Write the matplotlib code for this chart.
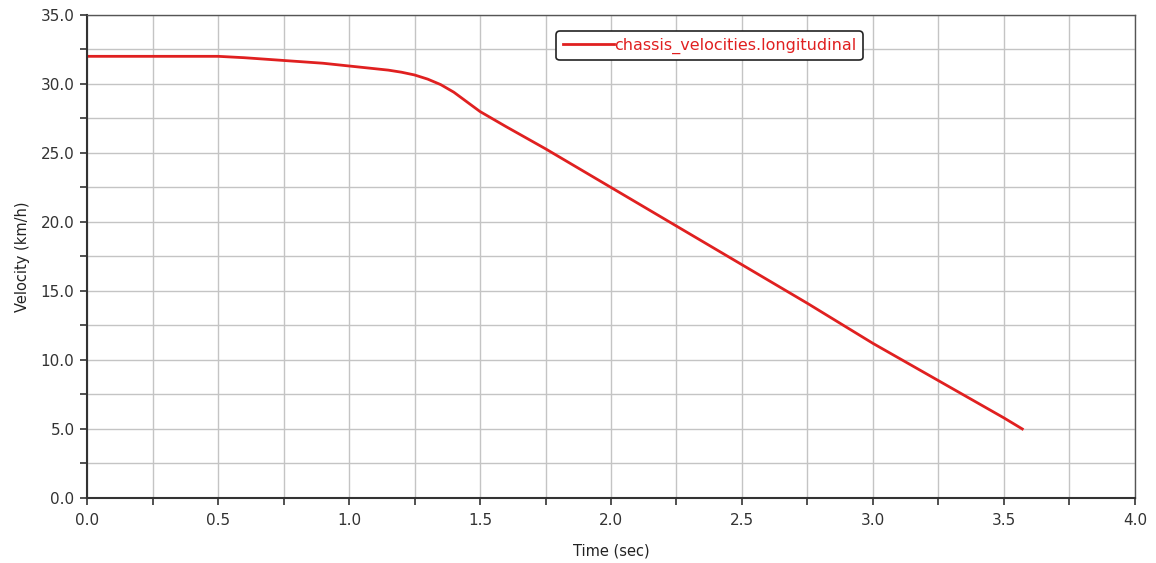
import matplotlib
matplotlib.use("Agg")
import matplotlib.pyplot as plt
import numpy as np

time_sec = [0.0, 0.25, 0.5, 0.6, 0.75, 0.9, 1.0, 1.1, 1.15, 1.2, 1.25, 1.3, 1.35, 1.4, 1.45, 1.5, 1.6, 1.75, 2.0, 2.25, 2.5, 2.75, 3.0, 3.25, 3.5, 3.57]
velocity_kmh = [32.0, 32.0, 32.0, 31.9, 31.7, 31.5, 31.3, 31.1, 31.0, 30.85, 30.65, 30.35, 29.95, 29.4, 28.7, 28.0, 26.9, 25.3, 22.5, 19.7, 16.9, 14.1, 11.2, 8.5, 5.8, 5.0]
series_label = "chassis_velocities.longitudinal"
x_ticks = [0.0, 0.5, 1.0, 1.5, 2.0, 2.5, 3.0, 3.5, 4.0]
y_ticks = [0.0, 5.0, 10.0, 15.0, 20.0, 25.0, 30.0, 35.0]

plt.rcParams['font.family'] = ['DejaVu Sans']
fig = plt.figure(figsize=(11.56, 5.63), dpi=100)
ax = fig.add_axes([0.0753, 0.1155, 0.9065, 0.858])

ax.plot(time_sec, velocity_kmh, color='#e02020', lw=2.0, label=series_label)
ax.set_xlim(0, 4.0)
ax.set_ylim(0, 35.0)
ax.set_xticks(x_ticks)
ax.set_xticklabels([f"{v:.1f}" for v in x_ticks])
ax.set_yticks(y_ticks)
ax.set_yticklabels([f"{v:.1f}" for v in y_ticks])
ax.set_xticks(np.arange(0, 4.01, 0.25), minor=True)
ax.set_yticks(np.arange(0, 35.01, 2.5), minor=True)
ax.grid(True, which='both', color='#c4c4c4', lw=1.0)
ax.set_axisbelow(True)
ax.tick_params(which='both', direction='out', length=5, width=1.2, colors='#333333', labelsize=11, labelcolor='#333333')
ax.tick_params(axis='x', which='both', pad=6)
ax.tick_params(axis='y', which='both', pad=4)
for s in ['left', 'bottom']:
    ax.spines[s].set_color('#333333')
    ax.spines[s].set_linewidth(1.5)
for s in ['top', 'right']:
    ax.spines[s].set_color('#555555')
    ax.spines[s].set_linewidth(1.0)

ax.set_xlabel("Time (sec)", fontsize=10.5, color='#222222', labelpad=11)
ax.set_ylabel("Velocity (km/h)", fontsize=10.5, color='#222222', labelpad=8)

leg = ax.legend(loc='center', bbox_to_anchor=(0.594, 0.936), fontsize=11.5, frameon=True,
                fancybox=True, edgecolor='#222222', framealpha=1, handlelength=3.2, handletextpad=0.0,
                borderpad=0.4)
for t in leg.get_texts():
    t.set_color('#e02020')
leg.get_frame().set_linewidth(1.2)

fig.savefig("out.png", dpi=100)
